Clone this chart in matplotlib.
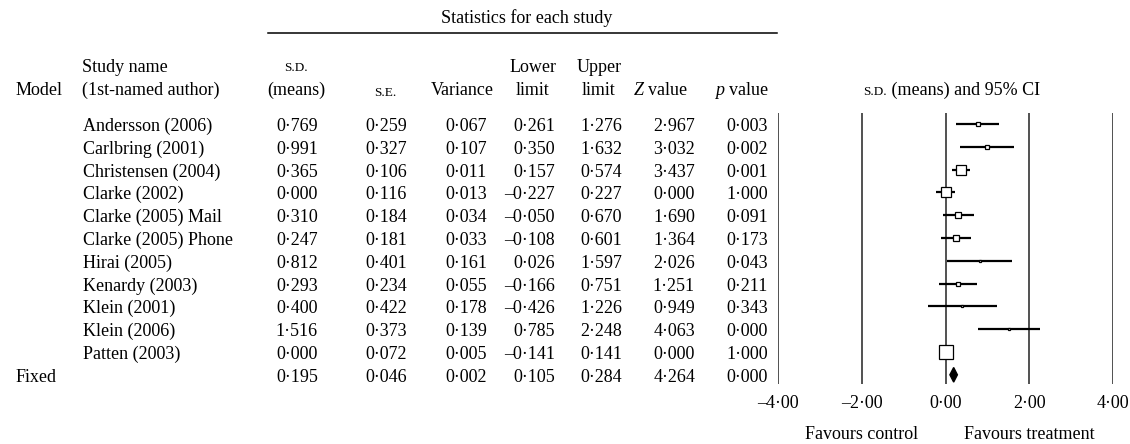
import numpy as np
import matplotlib
matplotlib.use("Agg")
import matplotlib.pyplot as plt
from matplotlib import transforms

plt.rcParams['font.family'] = ['Liberation Serif', 'DejaVu Serif']
plt.rcParams['mathtext.fontset'] = 'custom'
plt.rcParams['mathtext.rm'] = 'Liberation Serif'
plt.rcParams['mathtext.it'] = 'Liberation Serif:italic'

# ---------------- data ----------------
studies = ["Andersson (2006)", "Carlbring (2001)", "Christensen (2004)", "Clarke (2002)",
           "Clarke (2005) Mail", "Clarke (2005) Phone", "Hirai (2005)", "Kenardy (2003)",
           "Klein (2001)", "Klein (2006)", "Patten (2003)"]
sd_means = [0.769, 0.991, 0.365, 0.000, 0.310, 0.247, 0.812, 0.293, 0.400, 1.516, 0.000]
std_err = [0.259, 0.327, 0.106, 0.116, 0.184, 0.181, 0.401, 0.234, 0.422, 0.373, 0.072]
variance = [0.067, 0.107, 0.011, 0.013, 0.034, 0.033, 0.161, 0.055, 0.178, 0.139, 0.005]
lower = [0.261, 0.350, 0.157, -0.227, -0.050, -0.108, 0.026, -0.166, -0.426, 0.785, -0.141]
upper = [1.276, 1.632, 0.574, 0.227, 0.670, 0.601, 1.597, 0.751, 1.226, 2.248, 0.141]
z_value = [2.967, 3.032, 3.437, 0.000, 1.690, 1.364, 2.026, 1.251, 0.949, 4.063, 0.000]
p_value = [0.003, 0.002, 0.001, 1.000, 0.091, 0.173, 0.043, 0.211, 0.343, 0.000, 1.000]

fixed_label = "Fixed"
fixed_sd, fixed_se, fixed_var = 0.195, 0.046, 0.002
fixed_lower, fixed_upper, fixed_z, fixed_p = 0.105, 0.284, 4.264, 0.000

xticks = [-4, -2, 0, 2, 4]
# --------------------------------------

W, H = 1130, 444
FS = 13
SMALL = 9.5


def fx(px):
    return px / W


def fy(py):
    return 1 - py / H


def fmt(v, nd=3):
    s = f"{v:.{nd}f}".replace(".", "\u00b7")
    return s.replace("-", "\u2013")


fig = plt.figure(figsize=(11.3, 4.44), dpi=100)

ax_top, ax_bot = 113, 384
row0, dy = 124, 22.8
ax = fig.add_axes([fx(778), fy(ax_bot), fx(1113) - fx(778), (ax_bot - ax_top) / H])
ax.set_xlim(-4, 4)
ax.set_ylim((ax_bot - row0) / dy, (ax_top - row0) / dy)
for s in ax.spines.values():
    s.set_visible(False)
ax.set_yticks([])
ax.set_xticks(xticks)
ax.set_xticklabels([fmt(t, 2) for t in xticks], fontsize=FS)
ax.tick_params(axis='x', length=0, pad=8)
for t in xticks:
    ax.axvline(t, color='#222222', lw=1.1, zorder=1)

n = len(studies)
ys = np.arange(n)
weights = 1.0 / np.array(variance)
for i in range(n):
    ax.hlines(ys[i], lower[i], upper[i], color='black', lw=1.6, zorder=2)
    ax.plot(sd_means[i], ys[i], marker='s', ms=np.sqrt(weights[i]) * 0.76,
            mfc='white', mec='black', mew=0.9, zorder=3)
yf = n
hh = 0.32
ax.fill([fixed_lower, fixed_sd, fixed_upper, fixed_sd],
        [yf, yf - hh, yf, yf + hh], color='black', zorder=3)

xa = ax.get_xaxis_transform()
fav_y = -(439 - ax_bot) / (ax_bot - ax_top)
ax.text(-2, fav_y, "Favours control", transform=xa, ha='center', va='baseline', fontsize=FS)
ax.text(2, fav_y, "Favours treatment", transform=xa, ha='center', va='baseline', fontsize=FS)

# table text: x in figure fraction, y in data rows of forest axes
tr = transforms.blended_transform_factory(fig.transFigure, ax.transData)
base = 7 / dy
col_right = [318, 407, 487, 555, 622, 695, 768]
cols = [sd_means, std_err, variance, lower, upper, z_value, p_value]
for i in range(n):
    ax.text(fx(83), ys[i] + base, studies[i], transform=tr, ha='left', va='baseline',
            fontsize=FS, clip_on=False)
    for c, xr in zip(cols, col_right):
        ax.text(fx(xr), ys[i] + base, fmt(c[i]), transform=tr, ha='right', va='baseline',
                fontsize=FS, clip_on=False)
fixed_vals = [fixed_sd, fixed_se, fixed_var, fixed_lower, fixed_upper, fixed_z, fixed_p]
ax.text(fx(16), yf + base, fixed_label, transform=tr, ha='left', va='baseline', fontsize=FS)
for v, xr in zip(fixed_vals, col_right):
    ax.text(fx(xr), yf + base, fmt(v), transform=tr, ha='right', va='baseline', fontsize=FS)

# headers (figure coordinates)
def ftext(x, y, s, size=FS, ha='center'):
    return fig.text(fx(x), fy(y), s, ha=ha, va='baseline', fontsize=size)

ftext(527, 23, "Statistics for each study")
fig.add_artist(plt.Line2D([fx(268), fx(777)], [fy(33), fy(33)], transform=fig.transFigure,
                          color='black', lw=1.1))
b1, b2 = 72, 95
ftext(16, b2, "Model", ha='left')
ftext(82, b1, "Study name", ha='left')
ftext(82, b2, "(1st-named author)", ha='left')
ftext(296, b1 - 1, "S.D.", size=SMALL)
ftext(296, b2, "(means)")
ftext(385, b2 + 1, "S.E.", size=SMALL)
ftext(462, b2, "Variance")
ftext(533, b1, "Lower")
ftext(533, b2, "limit")
ftext(599, b1, "Upper")
ftext(599, b2, "limit")
ftext(660, b2, r"$Z$ value")
ftext(742, b2, r"$p$ value")

fig.canvas.draw()
r = fig.canvas.get_renderer()
t1 = fig.text(0, fy(b2), "S.D.", fontsize=SMALL, ha='left', va='baseline')
t2 = fig.text(0, fy(b2), " (means) and 95% CI", fontsize=FS, ha='left', va='baseline')
w1 = t1.get_window_extent(r).width
w2 = t2.get_window_extent(r).width
start = 952 - (w1 + w2) / 2
t1.set_x(fx(start))
t2.set_x(fx(start + w1))

fig.savefig("out.png", dpi=100)
